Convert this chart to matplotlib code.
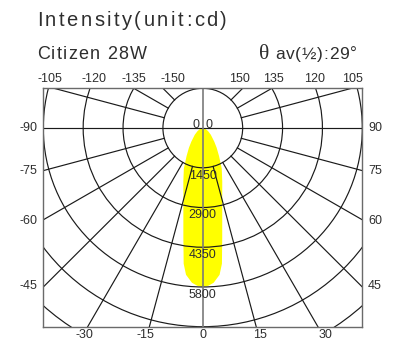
import numpy as np
import matplotlib
matplotlib.use("Agg")
import matplotlib.pyplot as plt
from matplotlib import font_manager
from matplotlib.ft2font import LoadFlags
from matplotlib.patches import Circle
from matplotlib.transforms import IdentityTransform

# ── photometric data (cd), symmetric about nadir ──────────────────────────────
angles_deg = [0, 2, 4, 6.5, 8, 10, 12, 15, 20, 25, 30, 35, 40, 50, 60, 70, 80, 90]
intensity_cd = [5800, 5760, 5660, 5390, 5000, 4070, 3400, 2730, 2070, 1630,
                1180, 880, 650, 380, 220, 110, 40, 0]

ring_values = [1450, 2900, 4350, 5800, 7250, 8700]
ring_labels = ["1450", "2900", "4350", "5800"]
spoke_angles = [-135, -120, -105, -75, -60, -45, -30, -15,
                15, 30, 45, 60, 75, 105, 120, 135]

top_labels = ["-105", "-120", "-135", "-150", "150", "135", "120", "105"]
left_labels = ["-90", "-75", "-60", "-45"]
right_labels = ["90", "75", "60", "45"]
bottom_labels = ["-30", "-15", "0", "15", "30"]

title = "Intensity(unit:cd)"
lamp_name = "Citizen 28W"
beam_text = "av(½):29°"

# ── layout (cd units on the diagram, pixels for the header) ──────────────────
W, H, DPI = 398, 344, 100
TEXT = "#2e2e2e"
LINE = "#1a1a1a"
SANS = "Liberation Sans"

top_x = [-5544, -3960, -2504, -1103, 1336, 2555, 4048, 5449]
top_y = 1807
side_y = [0, -1550, -3380, -5780]
bottom_x = [-4290, -2080, 0, 2070, 4480]
bottom_y = -7560

fig = plt.figure(figsize=(W / DPI, H / DPI), dpi=DPI)
ax = fig.add_axes([43.3 / W, 1 - 326.7 / H, 319 / W, 238.4 / H])
ax.set_xlim(-5800, 5800)
ax.set_ylim(-7250, 1450)
ax.set_xticks([])
ax.set_yticks([])
for sp in ax.spines.values():
    sp.set_color("#6a6a6a")
    sp.set_linewidth(1.0)

# light distribution curve, 0° pointing down
th = np.radians(np.concatenate([-np.array(angles_deg[::-1]), angles_deg[1:]]))
cd = np.concatenate([intensity_cd[::-1], intensity_cd[1:]])
ax.fill(cd * np.sin(th), -cd * np.cos(th), color="#ffff00", lw=0, zorder=1)

# iso-intensity rings and spokes
for r in ring_values:
    ax.add_patch(Circle((0, 0), r, fill=False, ec=LINE, lw=0.85, zorder=2))
r0, r1 = ring_values[0], 12000
for a in np.radians(spoke_angles):
    ax.plot([r0 * np.sin(a), r1 * np.sin(a)], [-r0 * np.cos(a), -r1 * np.cos(a)],
            color=LINE, lw=0.85, zorder=2)
ax.axhline(0, color=LINE, lw=0.85, zorder=2)
ax.axvline(0, color="#7a7a7a", lw=1.2, zorder=2)

# ring values along the nadir
lbl = dict(fontsize=9, family=SANS, color=TEXT, zorder=3)
ax.text(-230, 110, "0", ha="center", va="center", **lbl)
ax.text(230, 110, "0", ha="center", va="center", **lbl)
for r, s in zip(ring_values, ring_labels):
    ax.text(0, -(r + 290), s, ha="center", va="center", **lbl)

# angle labels around the frame
for x, s in zip(top_x, top_labels):
    ax.text(x, top_y, s, ha="center", va="center", clip_on=False, **lbl)
for y, s in zip(side_y, left_labels):
    ax.text(-6000, y, s, ha="right", va="center", clip_on=False, **lbl)
for y, s in zip(side_y, right_labels):
    ax.text(6010, y, s, ha="left", va="center", clip_on=False, **lbl)
for x, s in zip(bottom_x, bottom_labels):
    ax.text(x, bottom_y, s, ha="center", va="center", clip_on=False, **lbl)


def advance_px(ch, family, size_pt):
    font = font_manager.get_font(font_manager.findfont(family))
    font.set_size(size_pt, DPI)
    glyph = font.load_char(ord(ch), flags=LoadFlags.NO_HINTING)
    return glyph.linearHoriAdvance / 65536


def spaced_text(x, y, s, size_pt, tracking, family=SANS):
    """Header text in figure pixels with extra letter spacing."""
    for ch in s:
        fig.text(x, y, ch, transform=IdentityTransform(), fontsize=size_pt,
                 family=family, color=TEXT, ha="left", va="baseline")
        x += advance_px(ch, family, size_pt) + tracking
    return x


spaced_text(36.7, H - 26, title, 14.5, 2.5)
spaced_text(36.7, H - 59.3, lamp_name, 13, 1.3)
fig.text(259, H - 59.3, "θ", transform=IdentityTransform(), fontsize=15.5,
         family="Liberation Serif", color=TEXT, ha="left", va="baseline")
spaced_text(275, H - 59.3, beam_text, 12.5, 0.8)

fig.savefig("out.png", dpi=DPI)
